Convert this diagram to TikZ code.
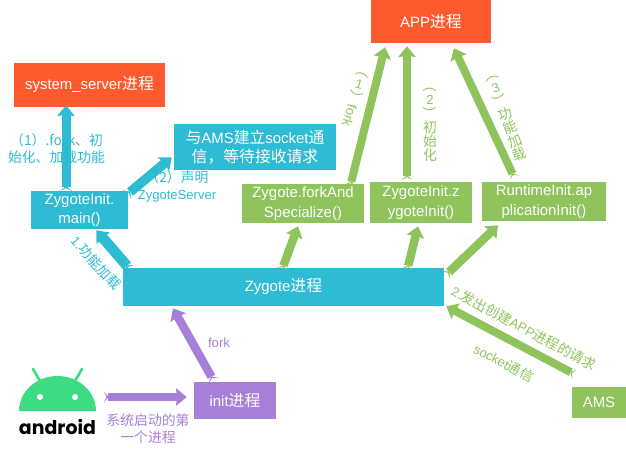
\documentclass[tikz,border=0pt]{standalone}
\usepackage{fontspec}
\usepackage{graphicx}
\setmainfont{Liberation Sans}
\newfontfamily\cjk[Scale=1.06]{Noto Sans CJK SC}
\newcommand{\zh}[1]{{\cjk #1}}
\newcommand{\rp}[1]{\rotatebox[origin=c]{-90}{#1}}
\usetikzlibrary{arrows.meta,calc}
\definecolor{ora}{HTML}{FF5A2E}
\definecolor{tea}{HTML}{2DBCD3}
\definecolor{gre}{HTML}{8FC35B}
\definecolor{pur}{HTML}{A87FD8}
\definecolor{droid}{HTML}{3DDC84}
\tikzset{
  x=0.75pt,y=-0.75pt,
  boxnode/.style={anchor=center,inner sep=0pt,align=center,text=white,font=\fontsize{11.2}{14.5}\selectfont},
  lab/.style={inner sep=0pt,align=center,font=\fontsize{9.8}{12.6}\selectfont},
  stack/.style={inner sep=0pt,align=center,font=\fontsize{9.8}{10.6}\selectfont},
  fat/.style={line width=#1*0.75pt,{Stealth[reversed,length=3.5pt,width=#1*0.75pt+2pt,inset=2.2pt,sep=-2.4pt]}-{Stealth[length=8pt,width=13pt,inset=0.8pt]}},
}
\newcommand{\bx}[6]{\fill[#2] (#3,#4) rectangle (#5,#6);
  \node[boxnode] (#1) at ({(#3+#5)/2},{(#4+#6)/2}) [minimum width={(#5-#3)*0.75pt},minimum height={(#6-#4)*0.75pt}]}
\begin{document}
\begin{tikzpicture}
\useasboundingbox (0,0) rectangle (626,454);
% labels
\node[lab,text=tea] (l1) at (56.5,149) {\zh{（1）.fork、初}\\\zh{始化、加载功能}};
\node[lab,text=tea] (l2) at (177,186.5) {\zh{（2）声明}\\ZygoteServer};
\node[lab,text=tea,rotate=-48] (l3) at (96,263) {1.\zh{功能加载}};
\node[stack,text=gre,rotate=-17] (l4) at (356,95) {\rp{\zh{（}}\\1\\\rp{\zh{）}}\\\rp{fork}};
\node[stack,text=gre] (l5) at (430,120) {\rp{\zh{（}}\\2\\\rp{\zh{）}}\\\zh{初}\\\zh{始}\\\zh{化}};
\node[stack,text=gre,rotate=20] (l6) at (505,114) {\rp{\zh{（}}\\3\\\rp{\zh{）}}\\\zh{功}\\\zh{能}\\\zh{加}\\\zh{载}};
\node[lab,text=gre,rotate=-28] (l7) at (524,328) {2.\zh{发出创建}APP\zh{进程的请求}};
\node[lab,text=gre,rotate=-28] (l8) at (504,363) {socket\zh{通信}};
\node[lab,text=pur] (l9) at (219,343) {fork};
\node[lab,text=pur] (l10) at (148,428.5) {\zh{系统启动的第}\\\zh{一个进程}};
% boxes
\bx{ss}{ora}{14}{63}{165}{107} {system\_server\zh{进程}};
\bx{app}{ora}{371}{0}{491}{43} {APP\zh{进程}};
\bx{sock}{tea}{174}{124}{336}{170} {\zh{与}AMS\zh{建立}socket\zh{通}\\\zh{信，等待接收请求}};
\bx{main}{tea}{31}{191}{128}{229} {ZygoteInit.\\main()};
\bx{zyg}{tea}{123}{268}{444}{306} {Zygote\zh{进程}};
\bx{fas}{gre}{242}{184}{364}{223} {Zygote.forkAnd\\Specialize()};
\bx{zzi}{gre}{370}{182}{472}{223} {ZygoteInit.z\\ygoteInit()};
\bx{rai}{gre}{482}{182}{606}{221} {RuntimeInit.ap\\plicationInit()};
\bx{init}{pur}{194}{382}{276}{419} {init\zh{进程}};
\bx{ams}{gre}{572}{387}{626}{418} {AMS};
% logo
\fill[droid] (19,411) arc[start angle=180,end angle=360,x radius=38.5,y radius=35] -- cycle;
\draw[droid,line width=2pt,line cap=round] (33,369) -- (40,381) (82,369) -- (75,381);
\fill[white] (40,397) circle[radius=3] (75,397) circle[radius=3];
\node[inner sep=0pt,font=\fontspec{Poppins}\fontsize{14.2}{18}\selectfont\bfseries] (logo) at (57.5,427) {android};
\coordinate (logoR) at (107,397);
% connectors
\draw[tea,fat=9] ([shift={(-13.5,-3)}]main.north) -- ([shift={(-23.5,-2)}]ss.south);
\draw[tea,fat=9.5] ([shift={(1,2)}]main.north east) -- ([shift={(-2,-13)}]sock.south west);
\draw[tea,fat=10.5] ([shift={(5,-1)}]zyg.north west) -- ([shift={(-32,1)}]main.south east);
\draw[gre,fat=8.5] ([shift={(-0.5,-1)}]zyg.north) -- ([shift={(-5,3)}]fas.south);
\draw[gre,fat=8.5] ([shift={(124.5,-1)}]zyg.north) -- ([shift={(-3,3)}]zzi.south);
\draw[gre,fat=8.5] ([shift={(4,5)}]zyg.north east) -- ([shift={(-46,4)}]rai.south);
\draw[gre,fat=8] ([shift={(48,-1)}]fas.north) -- ([shift={(-46,4)}]app.south);
\draw[gre,fat=8] ([shift={(-14,-5)}]zzi.north) -- ([shift={(-24,3)}]app.south);
\draw[gre,fat=8] ([shift={(-31,-7)}]rai.north) -- ([shift={(23,5)}]app.south);
\draw[gre,fat=8] ([shift={(0,-14)}]ams.north west) -- ([shift={(2,0)}]zyg.south east);
\draw[pur,fat=8.5] ([shift={(-23,-4)}]init.north) -- ([shift={(-110.5,2)}]zyg.south);
\draw[pur,fat=8.5] (logoR) -- ([shift={(-7,-3.5)}]init.west);
\end{tikzpicture}
\end{document}
